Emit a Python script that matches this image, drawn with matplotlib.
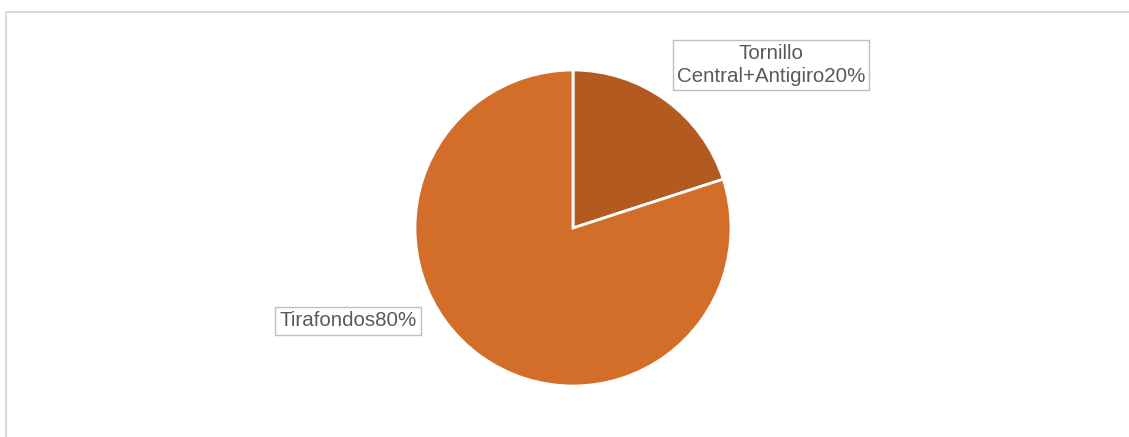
import matplotlib.pyplot as plt
from matplotlib.patches import Rectangle

labels = ["Tornillo\nCentral+Antigiro", "Tirafondos"]
values = [20, 80]
colors = ["#B25A20", "#D36D2A"]

W, H = 1129, 437


def main():
    plt.rcParams["font.family"] = ["Liberation Sans", "DejaVu Sans"]
    fig = plt.figure(figsize=(W / 100, H / 100), dpi=100)
    ax = fig.add_axes([0, 0, 1, 1])

    # outer chart frame
    ax.add_patch(Rectangle((5.5, 11.5), W + 10, H + 10, fill=False,
                           edgecolor="#D9D9D9", linewidth=1.5))

    # pie drawn on inverted y axis: clockwise from top becomes counterclock in data
    ax.pie(values, colors=colors, startangle=-90, counterclock=True,
           center=(573, 228), radius=158,
           wedgeprops=dict(edgecolor="white", linewidth=2))
    ax.set_xlim(0, W)
    ax.set_ylim(H, 0)
    ax.set_aspect("auto")
    ax.axis("off")

    total = sum(values)
    pos = [(771, 65), (348, 321)]
    for lab, v, (x, y) in zip(labels, values, pos):
        ax.text(x, y, f"{lab}{v * 100 // total}%", ha="center", va="center",
                fontsize=14.8, color="#595959", linespacing=1.3,
                bbox=dict(boxstyle="square,pad=0.2", facecolor="white",
                          edgecolor="#BFBFBF", linewidth=1))

    fig.savefig("out.png", dpi=100)


if __name__ == "__main__":
    main()
